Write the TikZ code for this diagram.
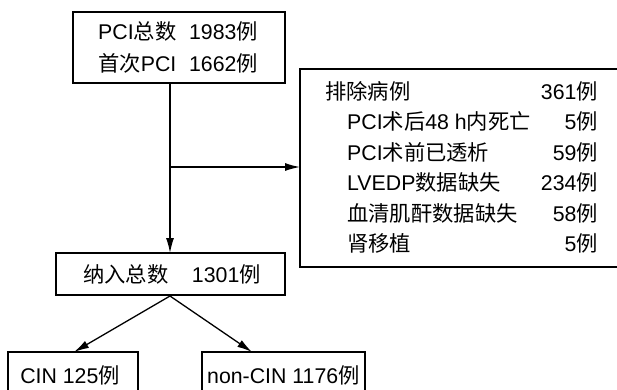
\documentclass[tikz,border=0pt]{standalone}
\usepackage{fontspec}
\setmainfont{Liberation Sans}
\newfontfamily\cjk{Noto Sans CJK SC}
\newcommand{\C}[1]{{\cjk #1}}
\usetikzlibrary{arrows.meta}
\begin{document}
\begin{tikzpicture}[x=1pt,y=-1pt,
  box/.style={draw,line width=1.4pt},
  txt/.style={font=\fontsize{21.3}{25}\selectfont,inner sep=0pt},
  conn/.style={line width=1.3pt,-{Latex[length=15pt,width=8pt]}}]
\useasboundingbox (0,0) rectangle (617,389);
\clip (0,0) rectangle (617,389);
% boxes
\draw[box] (73,12) rectangle (285,83);
\node[txt] (t1) at (178,31) {PCI\C{总数}\hspace{0.6em}1983\C{例}};
\node[txt] (t2) at (178,63) {\C{首次}PCI\hspace{0.6em}1662\C{例}};
\coordinate (topb) at (170,83);
\draw[box] (300,69) rectangle (640,267);
\node[txt,anchor=west] (e0) at (325,91) {\C{排除病例}};
\node[txt,anchor=west] (e1) at (347,121.5) {PCI\C{术后}48 h\C{内死亡}};
\node[txt,anchor=west] (e2) at (347,152) {PCI\C{术前已透析}};
\node[txt,anchor=west] (e3) at (347,182.5) {LVEDP\C{数据缺失}};
\node[txt,anchor=west] (e4) at (347,213) {\C{血清肌酐数据缺失}};
\node[txt,anchor=west] (e5) at (347,243.5) {\C{肾移植}};
\node[txt,anchor=east] (n0) at (598,91) {361\C{例}};
\node[txt,anchor=east] (n1) at (598,121.5) {5\C{例}};
\node[txt,anchor=east] (n2) at (598,152) {59\C{例}};
\node[txt,anchor=east] (n3) at (598,182.5) {234\C{例}};
\node[txt,anchor=east] (n4) at (598,213) {58\C{例}};
\node[txt,anchor=east] (n5) at (598,243.5) {5\C{例}};
\coordinate (exl) at (300,167);
\coordinate (br) at (170,167);
\draw[box] (56,253) rectangle (285,295);
\node[txt] (inc) at (172,274) {\C{纳入总数}\hspace{1.1em}1301\C{例}};
\coordinate (inct) at (170,253);
\coordinate (incb) at (170,296);
\draw[box] (8,352) rectangle (138,420);
\node[txt] (cin) at (70,375) {CIN 125\C{例}};
\coordinate (cint) at (74,352);
\draw[box] (202,352) rectangle (365,420);
\node[txt,anchor=west] (ncin) at (207,375) {non-CIN 1176\C{例}};
\coordinate (ncint) at (252,352);
% connectors
\draw[line width=1.3pt] (topb) -- (br);
\draw[conn] (br) -- (inct);
\draw[conn] (br) -- (exl);
\draw[conn] (incb) -- (cint);
\draw[conn] (incb) -- (ncint);
\end{tikzpicture}
\end{document}
